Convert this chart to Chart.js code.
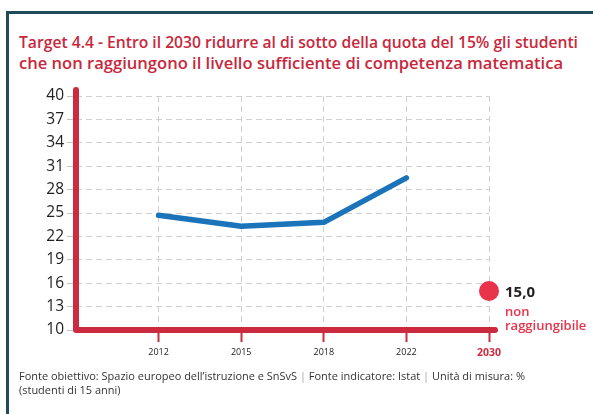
<!DOCTYPE html>
<html lang="it">
<head>
<meta charset="utf-8">
<title>Target 4.4 - Competenza matematica</title>
<script src="https://cdn.jsdelivr.net/npm/chart.js@4/dist/chart.umd.min.js"></script>
<style>
  html, body { margin: 0; padding: 0; background: #ffffff; }
  #page { position: relative; width: 593px; height: 414px; overflow: hidden; background: #ffffff; }
  #frame { position: absolute; left: 6px; top: 11px; width: 700px; height: 500px;
           border-left: 3px solid #1f4b5b; border-top: 3px solid #1f4b5b; box-sizing: border-box; }
  .line { position: absolute; left: 19px; white-space: nowrap; transform-origin: 0 50%; }
  .title { font-family: "Open Sans", sans-serif; font-weight: 600; font-size: 17px; color: #c8283c; }
  .note { font-family: "Open Sans", sans-serif; font-size: 11px; color: #333333; }
  .sep { color: #a8a8a8; }
  #chart { position: absolute; left: 0; top: 0; }
</style>
</head>
<body>
<div id="page">
  <div id="frame"></div>
  <span class="line title" id="t1" style="top:30px">Target 4.4 - Entro il 2030 ridurre al di sotto della quota del 15% gli studenti</span>
  <span class="line title" id="t2" style="top:51px">che non raggiungono il livello sufficiente di competenza matematica</span>
  <canvas id="chart" width="593" height="414"></canvas>
  <span class="line note" id="n1" style="top:368px">Fonte obiettivo: Spazio europeo dell’istruzione e SnSvS <span class="sep">|</span> Fonte indicatore: Istat <span class="sep">|</span> Unità di misura: %</span>
  <span class="line note" id="n2" style="top:382px">(studenti di 15 anni)</span>
</div>
<script>
// Survey years on the x axis (the first slot is the blank origin of the axis)
const years = ['', '2012', '2015', '2018', '2022', '2030'];
// Share of 15-year-old students below the sufficient level in mathematics (%)
const shareBelowLevel = [null, 24.7, 23.3, 23.8, 29.5, null];
// 2030 target value
const target2030 = [null, null, null, null, null, 15.0];
const targetNote = ['non', 'raggiungibile'];
// Y axis range and step
const yMin = 10;
const yMax = 40;
const yStep = 3;

const RED = '#cc2a3e';
const DOT_RED = '#e8334a';
const BLUE = '#1b73ba';
const GRID = '#d0d0d0';

// Squeeze the heading and the source lines to their measured widths
function fitLine(el, width) {
  const w = el.getBoundingClientRect().width;
  const s = width / w;
  el.style.transform = 'scaleX(' + s + ')';
  return s;
}
fitLine(document.getElementById('t1'), 559);
fitLine(document.getElementById('t2'), 544);
const noteScale = fitLine(document.getElementById('n1'), 506);
document.getElementById('n2').style.transform = 'scaleX(' + noteScale + ')';

// Red axis lines with rounded ends, slightly overshooting the plot area
const axisLines = {
  id: 'axisLines',
  beforeDatasetsDraw(chart) {
    const { ctx, chartArea } = chart;
    ctx.save();
    ctx.strokeStyle = RED;
    ctx.lineWidth = 6;
    ctx.lineCap = 'round';
    ctx.lineJoin = 'round';
    ctx.beginPath();
    ctx.moveTo(chartArea.left, chartArea.top - 6);
    ctx.lineTo(chartArea.left, chartArea.bottom);
    ctx.lineTo(chartArea.right + 6, chartArea.bottom);
    ctx.stroke();
    ctx.restore();
  }
};

// Value and note next to the 2030 target dot
const targetLabel = {
  id: 'targetLabel',
  afterDatasetsDraw(chart) {
    const meta = chart.getDatasetMeta(1);
    const idx = target2030.findIndex(v => v !== null);
    const pt = meta.data[idx];
    if (!pt) return;
    const { ctx } = chart;
    const x = pt.x + 16;
    ctx.save();
    ctx.textAlign = 'left';
    ctx.textBaseline = 'middle';
    ctx.fillStyle = '#222222';
    ctx.font = 'bold 15px "Open Sans", sans-serif';
    ctx.fillText(target2030[idx].toFixed(1).replace('.', ','), x, pt.y + 2);
    ctx.fillStyle = DOT_RED;
    ctx.font = '600 13px "Open Sans", sans-serif';
    ctx.fillText(targetNote[0], x, pt.y + 21);
    ctx.fillText(targetNote[1], x, pt.y + 35);
    ctx.restore();
  }
};

const yTickValues = [];
for (let v = yMin; v <= yMax; v += yStep) yTickValues.push(v);

new Chart(document.getElementById('chart'), {
  type: 'line',
  data: {
    labels: years,
    datasets: [
      {
        data: shareBelowLevel,
        borderColor: BLUE,
        borderWidth: 5.5,
        borderCapStyle: 'round',
        borderJoinStyle: 'round',
        pointRadius: 0,
        pointHoverRadius: 0,
        tension: 0,
        fill: false
      },
      {
        data: target2030,
        showLine: false,
        pointRadius: 10,
        pointHoverRadius: 10,
        pointBackgroundColor: DOT_RED,
        pointBorderWidth: 0,
        clip: false
      }
    ]
  },
  options: {
    responsive: false,
    devicePixelRatio: 1,
    animation: false,
    events: [],
    layout: { padding: { left: 0, top: 96, right: 104, bottom: 44 } },
    plugins: { legend: { display: false }, tooltip: { enabled: false }, title: { display: false } },
    scales: {
      x: {
        type: 'category',
        offset: false,
        border: { display: false, dash: [6, 4] },
        grid: {
          color: (c) => (c.index === 0 ? 'rgba(0,0,0,0)' : GRID),
          lineWidth: 1,
          drawTicks: true,
          tickLength: 12,
          tickWidth: 2,
          tickBorderDash: [],
          tickColor: (c) => (c.index === 0 ? 'rgba(0,0,0,0)' : RED)
        },
        ticks: {
          autoSkip: false,
          maxRotation: 0,
          padding: 5,
          color: (c) => (c.index === years.length - 1 ? RED : '#222222'),
          font: (c) => (c.index === years.length - 1
            ? { family: '"Open Sans", sans-serif', size: 10.5, weight: 'bold' }
            : { family: '"Open Sans", sans-serif', size: 9, weight: 'normal' })
        },
        afterFit(scale) { scale.height = 40; }
      },
      y: {
        min: yMin,
        max: yMax,
        afterBuildTicks(scale) { scale.ticks = yTickValues.map(v => ({ value: v })); },
        border: { display: false, dash: [6, 4] },
        grid: {
          color: GRID,
          lineWidth: 1,
          tickLength: 9,
          tickWidth: 1,
          tickBorderDash: [],
          tickColor: '#c4c4c4'
        },
        ticks: {
          padding: 3,
          color: '#222222',
          font: { family: '"Open Sans", sans-serif', size: 15.5 }
        },
        afterFit(scale) { scale.width = 76; }
      }
    }
  },
  plugins: [axisLines, targetLabel]
});
</script>
</body>
</html>
